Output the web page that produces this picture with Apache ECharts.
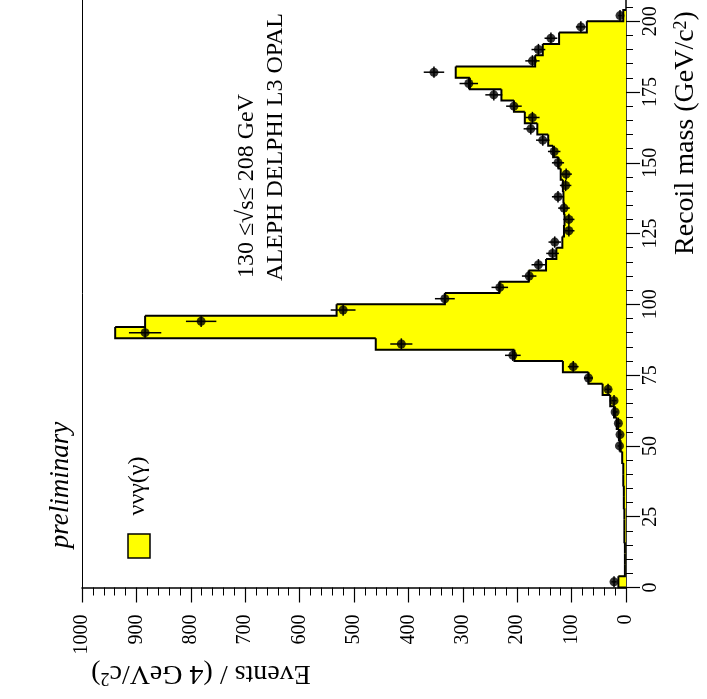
<!DOCTYPE html>
<html>
<head>
<meta charset="utf-8">
<script src="https://cdn.jsdelivr.net/npm/echarts@6/dist/echarts.min.js"></script>
<style>
html,body{margin:0;padding:0;background:#ffffff;}
#chart{width:707px;height:699px;}
</style>
</head>
<body>
<div id="chart"></div>
<script>
// Recoil-mass bins (4 GeV wide), bin centres in GeV/c^2
const binCenters = [2,6,10,14,18,22,26,30,34,38,42,46,50,54,58,62,66,70,74,78,82,86,90,94,98,102,106,110,114,118,122,126,130,134,138,142,146,150,154,158,162,166,170,174,178,182,186,190,194,198,202];
// nu nu gamma(gamma) expectation (yellow histogram), events per bin
const mcValues = [14,2,2,2,3,3,3,4,4,5,5,7,10,13,17,22,29,43,69,116,205,460,939,884,532,333,233,179,147,128,117,114,113,114,115,116,120,124,134,143,163,186,206,229,287,313,167,153,123,72,5];
// data points
const dataMass = [2,50,54,58,62,66,70,74,78,82,86,90,94,98,102,106,110,114,118,122,126,130,134,138,142,146,150,154,158,162,166,170,174,178,182,186,190,194,198,202];
const dataEvents = [22,12,11,14,20,22,33,69,97,208,413,884,781,520,333,232,178,161,135,131,105,105,114,125,111,110,125,132,153,175,172,206,243,289,353,172,161,138,83,11];
// axis ticks
const massMajorTicks = [0,25,50,75,100,125,150,175,200];
const massMinorTicks = [5,10,15,20,30,35,40,45,55,60,65,70,80,85,90,95,105,110,115,120,130,135,140,145,155,160,165,170,180,185,190,195,205];

const FONT = 'Liberation Serif';
const BIN_HALF = 2;

const histItems = binCenters.map((c, i) => [
  c - BIN_HALF, c + BIN_HALF, mcValues[i],
  i > 0 ? mcValues[i - 1] : 0,
  i === binCenters.length - 1 ? 1 : 0
]);
const pointItems = dataMass.map((m, i) => [dataEvents[i], m]);
const errItems = dataMass.map((m, i) => [dataEvents[i], m, Math.sqrt(dataEvents[i])]);

const chart = echarts.init(document.getElementById('chart'), null, {renderer: 'canvas'});

const option = {
  animation: false,
  backgroundColor: '#ffffff',
  grid: {left: 82, right: 81, top: 0, bottom: 111.5, containLabel: false},
  xAxis: [{
    type: 'value', inverse: true, min: 0, max: 1000, interval: 100, position: 'bottom',
    axisLine: {show: true, onZero: false, lineStyle: {color: '#000', width: 1.5}},
    axisTick: {show: true, inside: false, length: 15, lineStyle: {color: '#000', width: 1.2}},
    minorTick: {show: true, splitNumber: 5, length: 8, lineStyle: {color: '#000', width: 1}},
    axisLabel: {rotate: 90, margin: 27, fontFamily: FONT, fontSize: 20, color: '#000',
      formatter: function (v) { return String(v); }},
    splitLine: {show: false}, minorSplitLine: {show: false}
  }],
  yAxis: [{
    type: 'value', min: 0, max: 207.5, position: 'right',
    axisLine: {show: true, onZero: false, lineStyle: {color: '#000', width: 1.5}},
    axisTick: {show: true, length: 14, customValues: massMajorTicks, lineStyle: {color: '#000', width: 1.2}},
    axisLabel: {rotate: 90, margin: 15, customValues: massMajorTicks, fontFamily: FONT, fontSize: 20, color: '#000',
      formatter: function (v) { return String(v); }},
    splitLine: {show: false}
  }, {
    type: 'value', min: 0, max: 207.5, position: 'right',
    axisLine: {show: false, onZero: false},
    axisTick: {show: true, length: 7, customValues: massMinorTicks, lineStyle: {color: '#000', width: 1}},
    axisLabel: {show: false},
    splitLine: {show: false}
  }, {
    type: 'value', min: 0, max: 207.5, position: 'left',
    axisLine: {show: true, onZero: false, lineStyle: {color: '#000', width: 1}},
    axisTick: {show: false}, axisLabel: {show: false}, splitLine: {show: false}
  }],
  series: [{
    name: 'histFill', type: 'custom', xAxisIndex: 0, yAxisIndex: 0, z: 1,
    data: histItems,
    renderItem: function (params, api) {
      const a = api.coord([0, api.value(0)]);
      const b = api.coord([api.value(2), api.value(1)]);
      return {
        type: 'rect',
        shape: {x: Math.min(a[0], b[0]), y: Math.min(a[1], b[1]) - 0.6, width: Math.abs(a[0] - b[0]), height: Math.abs(a[1] - b[1]) + 1.2},
        style: {fill: '#ffff00', stroke: null}
      };
    }
  }, {
    name: 'histLine', type: 'custom', xAxisIndex: 0, yAxisIndex: 0, z: 2,
    data: histItems,
    renderItem: function (params, api) {
      const lo = api.value(0), hi = api.value(1), h = api.value(2), hp = api.value(3), last = api.value(4);
      const pts = [api.coord([hp, lo]), api.coord([h, lo]), api.coord([h, hi])];
      if (last) pts.push(api.coord([0, hi]));
      return {
        type: 'polyline',
        shape: {points: pts},
        style: {stroke: '#000', lineWidth: 2, fill: null}
      };
    }
  }, {
    name: 'errors', type: 'custom', xAxisIndex: 0, yAxisIndex: 0, z: 3,
    data: errItems,
    renderItem: function (params, api) {
      const v = api.value(0), m = api.value(1), e = api.value(2);
      const h1 = api.coord([Math.max(0, v - e), m]), h2 = api.coord([v + e, m]);
      const v1 = api.coord([v, m - BIN_HALF]), v2 = api.coord([v, m + BIN_HALF]);
      return {
        type: 'group',
        children: [
          {type: 'line', shape: {x1: h1[0], y1: h1[1], x2: h2[0], y2: h2[1]}, style: {stroke: '#000', lineWidth: 1.5}},
          {type: 'line', shape: {x1: v1[0], y1: v1[1], x2: v2[0], y2: v2[1]}, style: {stroke: '#000', lineWidth: 1.5}}
        ]
      };
    }
  }, {
    name: 'data', type: 'scatter', xAxisIndex: 0, yAxisIndex: 0, z: 4,
    symbol: 'circle', symbolSize: 9,
    itemStyle: {color: '#000'},
    data: pointItems
  }],
  graphic: [
    {type: 'text', x: 61, y: 485, rotation: Math.PI / 2,
     style: {text: 'preliminary', font: 'italic 27px "Liberation Serif"', fill: '#000', align: 'center', verticalAlign: 'middle'}},
    {type: 'rect', shape: {x: 128, y: 534, width: 22, height: 24},
     style: {fill: '#ffff00', stroke: '#000', lineWidth: 1.5}},
    {type: 'text', x: 138, y: 486, rotation: Math.PI / 2,
     style: {text: 'ννγ(γ)', font: '24px "Liberation Serif"', fill: '#000', align: 'center', verticalAlign: 'middle'}},
    {type: 'text', x: 247, y: 186, rotation: Math.PI / 2,
     style: {text: '130 ≤√s≤ 208 GeV', font: '24px "Liberation Serif"', fill: '#000', align: 'center', verticalAlign: 'middle'}},
    {type: 'text', x: 276, y: 147, rotation: Math.PI / 2,
     style: {text: 'ALEPH DELPHI L3 OPAL', font: '24px "Liberation Serif"', fill: '#000', align: 'center', verticalAlign: 'middle'}},
    {type: 'text', x: 686, y: 133, rotation: Math.PI / 2,
     style: {text: '{a|Recoil mass (GeV/c}{s|2}{a|)}', align: 'center', verticalAlign: 'middle',
       rich: {a: {fontFamily: FONT, fontSize: 28, fill: '#000', color: '#000'},
              s: {fontFamily: FONT, fontSize: 18, fill: '#000', color: '#000', verticalAlign: 'top'}}}},
    {type: 'text', x: 201, y: 673, rotation: Math.PI,
     style: {text: '{a|Events / (4 GeV/c}{s|2}{a|)}', align: 'center', verticalAlign: 'middle',
       rich: {a: {fontFamily: FONT, fontSize: 28, fill: '#000', color: '#000'},
              s: {fontFamily: FONT, fontSize: 18, fill: '#000', color: '#000', verticalAlign: 'top'}}}}
  ]
};
chart.setOption(option);
</script>
</body>
</html>
